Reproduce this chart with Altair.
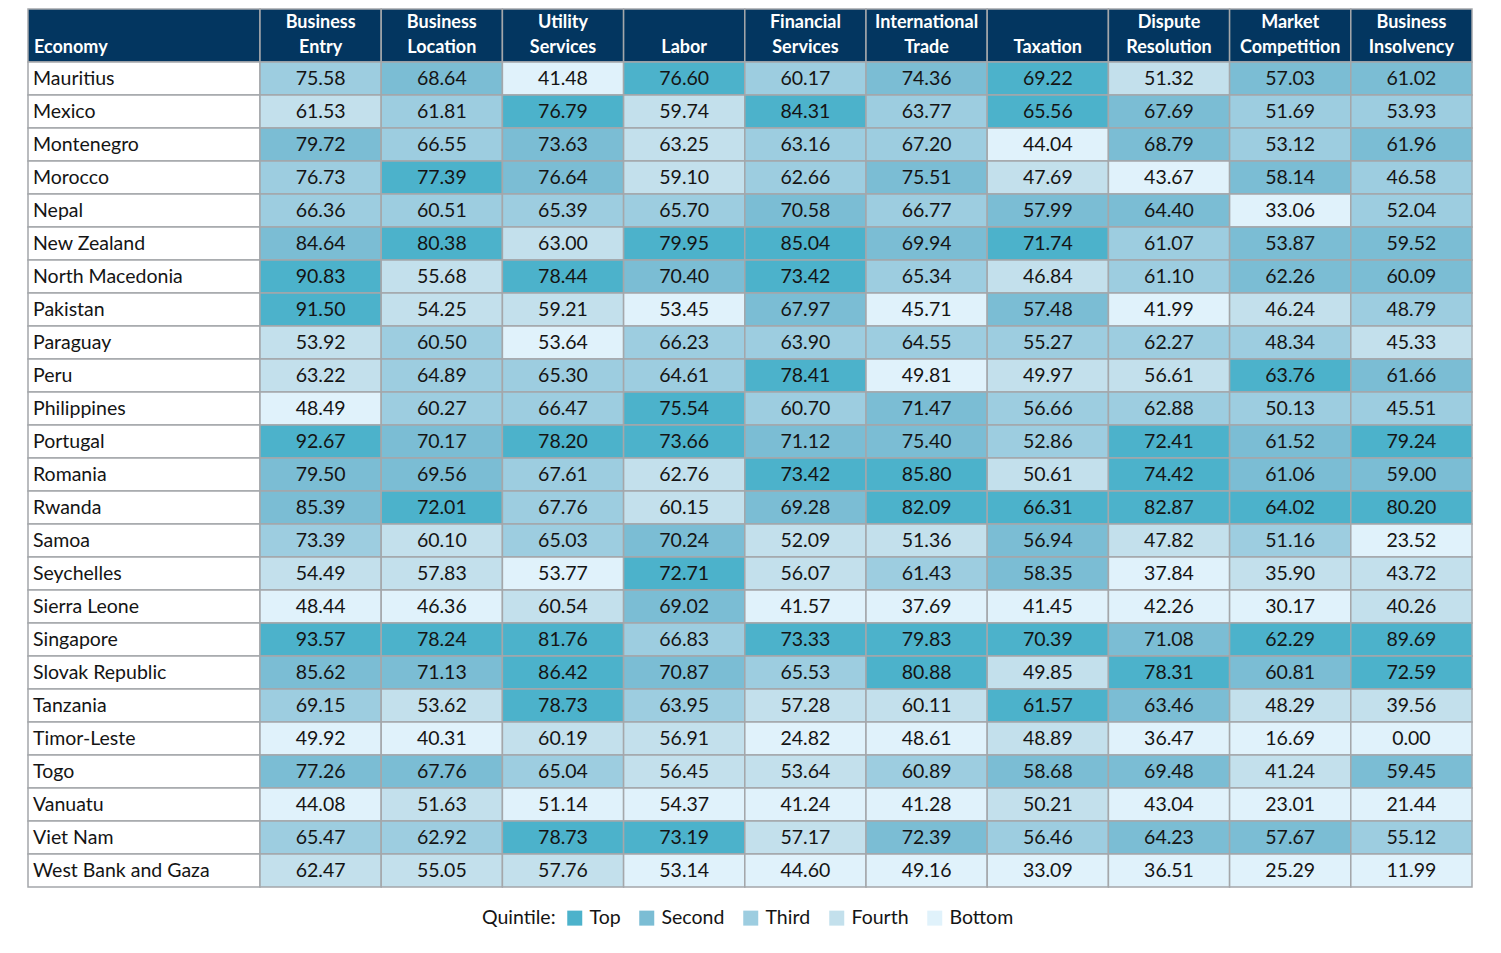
import altair as alt
import pandas as pd

economies = [
    "Mauritius", "Mexico", "Montenegro", "Morocco", "Nepal", "New Zealand",
    "North Macedonia", "Pakistan", "Paraguay", "Peru", "Philippines", "Portugal",
    "Romania", "Rwanda", "Samoa", "Seychelles", "Sierra Leone", "Singapore",
    "Slovak Republic", "Tanzania", "Timor-Leste", "Togo", "Vanuatu", "Viet Nam",
    "West Bank and Gaza",
]

indicators = [
    "Business Entry", "Business Location", "Utility Services", "Labor",
    "Financial Services", "International Trade", "Taxation",
    "Dispute Resolution", "Market Competition", "Business Insolvency",
]

header_line1 = ["Business", "Business", "Utility", "", "Financial", "International", "",
                "Dispute", "Market", "Business"]
header_line2 = ["Entry", "Location", "Services", "Labor", "Services", "Trade", "Taxation",
                "Resolution", "Competition", "Insolvency"]

business_entry = [75.58, 61.53, 79.72, 76.73, 66.36, 84.64, 90.83, 91.50, 53.92, 63.22, 48.49, 92.67, 79.50, 85.39, 73.39, 54.49, 48.44, 93.57, 85.62, 69.15, 49.92, 77.26, 44.08, 65.47, 62.47]
business_location = [68.64, 61.81, 66.55, 77.39, 60.51, 80.38, 55.68, 54.25, 60.50, 64.89, 60.27, 70.17, 69.56, 72.01, 60.10, 57.83, 46.36, 78.24, 71.13, 53.62, 40.31, 67.76, 51.63, 62.92, 55.05]
utility_services = [41.48, 76.79, 73.63, 76.64, 65.39, 63.00, 78.44, 59.21, 53.64, 65.30, 66.47, 78.20, 67.61, 67.76, 65.03, 53.77, 60.54, 81.76, 86.42, 78.73, 60.19, 65.04, 51.14, 78.73, 57.76]
labor = [76.60, 59.74, 63.25, 59.10, 65.70, 79.95, 70.40, 53.45, 66.23, 64.61, 75.54, 73.66, 62.76, 60.15, 70.24, 72.71, 69.02, 66.83, 70.87, 63.95, 56.91, 56.45, 54.37, 73.19, 53.14]
financial_services = [60.17, 84.31, 63.16, 62.66, 70.58, 85.04, 73.42, 67.97, 63.90, 78.41, 60.70, 71.12, 73.42, 69.28, 52.09, 56.07, 41.57, 73.33, 65.53, 57.28, 24.82, 53.64, 41.24, 57.17, 44.60]
international_trade = [74.36, 63.77, 67.20, 75.51, 66.77, 69.94, 65.34, 45.71, 64.55, 49.81, 71.47, 75.40, 85.80, 82.09, 51.36, 61.43, 37.69, 79.83, 80.88, 60.11, 48.61, 60.89, 41.28, 72.39, 49.16]
taxation = [69.22, 65.56, 44.04, 47.69, 57.99, 71.74, 46.84, 57.48, 55.27, 49.97, 56.66, 52.86, 50.61, 66.31, 56.94, 58.35, 41.45, 70.39, 49.85, 61.57, 48.89, 58.68, 50.21, 56.46, 33.09]
dispute_resolution = [51.32, 67.69, 68.79, 43.67, 64.40, 61.07, 61.10, 41.99, 62.27, 56.61, 62.88, 72.41, 74.42, 82.87, 47.82, 37.84, 42.26, 71.08, 78.31, 63.46, 36.47, 69.48, 43.04, 64.23, 36.51]
market_competition = [57.03, 51.69, 53.12, 58.14, 33.06, 53.87, 62.26, 46.24, 48.34, 63.76, 50.13, 61.52, 61.06, 64.02, 51.16, 35.90, 30.17, 62.29, 60.81, 48.29, 16.69, 41.24, 23.01, 57.67, 25.29]
business_insolvency = [61.02, 53.93, 61.96, 46.58, 52.04, 59.52, 60.09, 48.79, 45.33, 61.66, 45.51, 79.24, 59.00, 80.20, 23.52, 43.72, 40.26, 89.69, 72.59, 39.56, 0.00, 59.45, 21.44, 55.12, 11.99]

# Quintile read from each cell's shade: 1=Top, 2=Second, 3=Third, 4=Fourth, 5=Bottom
q_business_entry = [3, 4, 2, 3, 3, 2, 1, 1, 4, 4, 5, 1, 2, 2, 3, 4, 5, 1, 2, 3, 5, 2, 5, 3, 4]
q_business_location = [2, 3, 3, 1, 3, 1, 4, 4, 3, 3, 3, 2, 2, 1, 4, 4, 5, 1, 2, 4, 5, 2, 4, 3, 4]
q_utility_services = [5, 1, 2, 2, 3, 4, 1, 4, 5, 3, 3, 1, 3, 3, 3, 5, 4, 1, 1, 1, 4, 3, 5, 1, 4]
q_labor = [1, 4, 4, 4, 3, 1, 2, 5, 3, 3, 1, 1, 4, 4, 2, 1, 2, 3, 2, 3, 4, 4, 5, 1, 5]
q_financial_services = [3, 1, 3, 3, 2, 1, 1, 2, 3, 1, 3, 2, 1, 2, 4, 4, 5, 1, 3, 4, 5, 4, 5, 4, 5]
q_international_trade = [2, 3, 3, 2, 3, 2, 3, 5, 3, 5, 2, 2, 1, 1, 4, 3, 5, 1, 1, 4, 5, 3, 5, 2, 5]
q_taxation = [1, 1, 5, 4, 2, 1, 4, 2, 3, 4, 3, 3, 4, 1, 2, 2, 5, 1, 4, 1, 4, 2, 4, 3, 5]
q_dispute_resolution = [4, 2, 2, 5, 2, 3, 3, 5, 3, 4, 3, 1, 1, 1, 4, 5, 5, 2, 1, 2, 5, 2, 5, 2, 5]
q_market_competition = [2, 3, 3, 2, 5, 2, 2, 4, 3, 1, 3, 2, 2, 1, 3, 4, 5, 1, 2, 4, 5, 4, 5, 2, 5]
q_business_insolvency = [2, 3, 2, 3, 3, 2, 2, 3, 4, 2, 3, 1, 2, 1, 5, 4, 4, 1, 1, 4, 5, 2, 5, 3, 5]

quintile_names = ["Top", "Second", "Third", "Fourth", "Bottom"]
quintile_colors = ["#4CB2CB", "#7BBDD4", "#9DCDE0", "#C3E0EC", "#E0F2FB"]

series = [business_entry, business_location, utility_services, labor, financial_services,
          international_trade, taxation, dispute_resolution, market_competition, business_insolvency]
qseries = [q_business_entry, q_business_location, q_utility_services, q_labor, q_financial_services,
           q_international_trade, q_taxation, q_dispute_resolution, q_market_competition, q_business_insolvency]

rows = []
for ind, vals, qs in zip(indicators, series, qseries):
    for eco, v, q in zip(economies, vals, qs):
        rows.append({"economy": eco, "indicator": ind, "value": v,
                     "label": f"{v:.2f}", "quintile": quintile_names[q - 1]})
body_df = pd.DataFrame(rows)
head_df = pd.DataFrame({"indicator": indicators, "line1": header_line1, "line2": header_line2})
econ_df = pd.DataFrame({"economy": economies, "col": ["Economy"] * len(economies)})
econ_head_df = pd.DataFrame({"col": ["Economy"], "head": ["Economy"]})

FONT = "Lato"
GRID = "#A4A7AA"
HEAD_BG = "#033660"
TXT = "#141414"
W_ECON = 232
W_DATA = 1212
H_HEAD = 53
H_BODY = 825
SW = 1.5
HFS = 18
BASE1 = 19
BASE2 = 44

band = alt.Scale(paddingInner=0, paddingOuter=0)
x_data = alt.X("indicator:N", sort=indicators, axis=None, scale=band)
x_econ = alt.X("col:N", axis=None, scale=band)
x_econ_start = alt.X("col:N", axis=None, scale=band, bandPosition=0)
y_body = alt.Y("economy:N", sort=economies, axis=None, scale=band)

head_text = dict(baseline="alphabetic", font=FONT, fontSize=HFS, fontWeight="bold", color="white")

head_left = alt.layer(
    alt.Chart(econ_head_df).mark_rect(fill=HEAD_BG, stroke=GRID, strokeWidth=SW).encode(x=x_econ),
    alt.Chart(econ_head_df).mark_text(align="left", dx=6, **head_text).encode(
        x=x_econ_start, y=alt.value(BASE2), text="head:N"),
).properties(width=W_ECON, height=H_HEAD)

head_right = alt.layer(
    alt.Chart(head_df).mark_rect(fill=HEAD_BG, stroke=GRID, strokeWidth=SW).encode(x=x_data),
    alt.Chart(head_df).mark_text(align="center", **head_text).encode(
        x=x_data, y=alt.value(BASE1), text="line1:N"),
    alt.Chart(head_df).mark_text(align="center", **head_text).encode(
        x=x_data, y=alt.value(BASE2), text="line2:N"),
).properties(width=W_DATA, height=H_HEAD)

body_left = alt.layer(
    alt.Chart(econ_df).mark_rect(fill="white", stroke=GRID, strokeWidth=SW).encode(x=x_econ, y=y_body),
    alt.Chart(econ_df).mark_text(
        align="left", baseline="middle", dx=5, font=FONT, fontSize=19.5, color=TXT,
    ).encode(x=x_econ_start, y=y_body, text="economy:N"),
).properties(width=W_ECON, height=H_BODY)

body_right = alt.layer(
    alt.Chart(body_df).mark_rect(stroke=GRID, strokeWidth=SW).encode(
        x=x_data, y=y_body,
        fill=alt.Fill(
            "quintile:N",
            scale=alt.Scale(domain=quintile_names, range=quintile_colors),
            legend=alt.Legend(
                title="Quintile:", orient="none", legendX=454, legendY=899,
                direction="horizontal", titleOrient="left", symbolType="square",
                symbolSize=225, symbolStrokeWidth=0, labelFontSize=19.5, titleFontSize=19.5,
                titleFontWeight="normal", labelFont=FONT, titleFont=FONT,
                labelColor=TXT, titleColor=TXT, columnPadding=16, labelOffset=5,
                titlePadding=9, titleBaseline="middle",
            ),
        ),
    ),
    alt.Chart(body_df).mark_text(
        align="center", baseline="middle", font=FONT, fontSize=19.5, color=TXT,
    ).encode(x=x_data, y=y_body, text="label:N"),
).properties(width=W_DATA, height=H_BODY)

chart = alt.concat(
    head_left, head_right, body_left, body_right,
    columns=2, spacing=0, bounds="flush", align="each",
).properties(
    padding={"left": 19, "top": 0, "right": 10, "bottom": 10},
).configure_view(strokeWidth=0)

chart.save("out.html", embed_options={"renderer": "svg", "actions": False})
